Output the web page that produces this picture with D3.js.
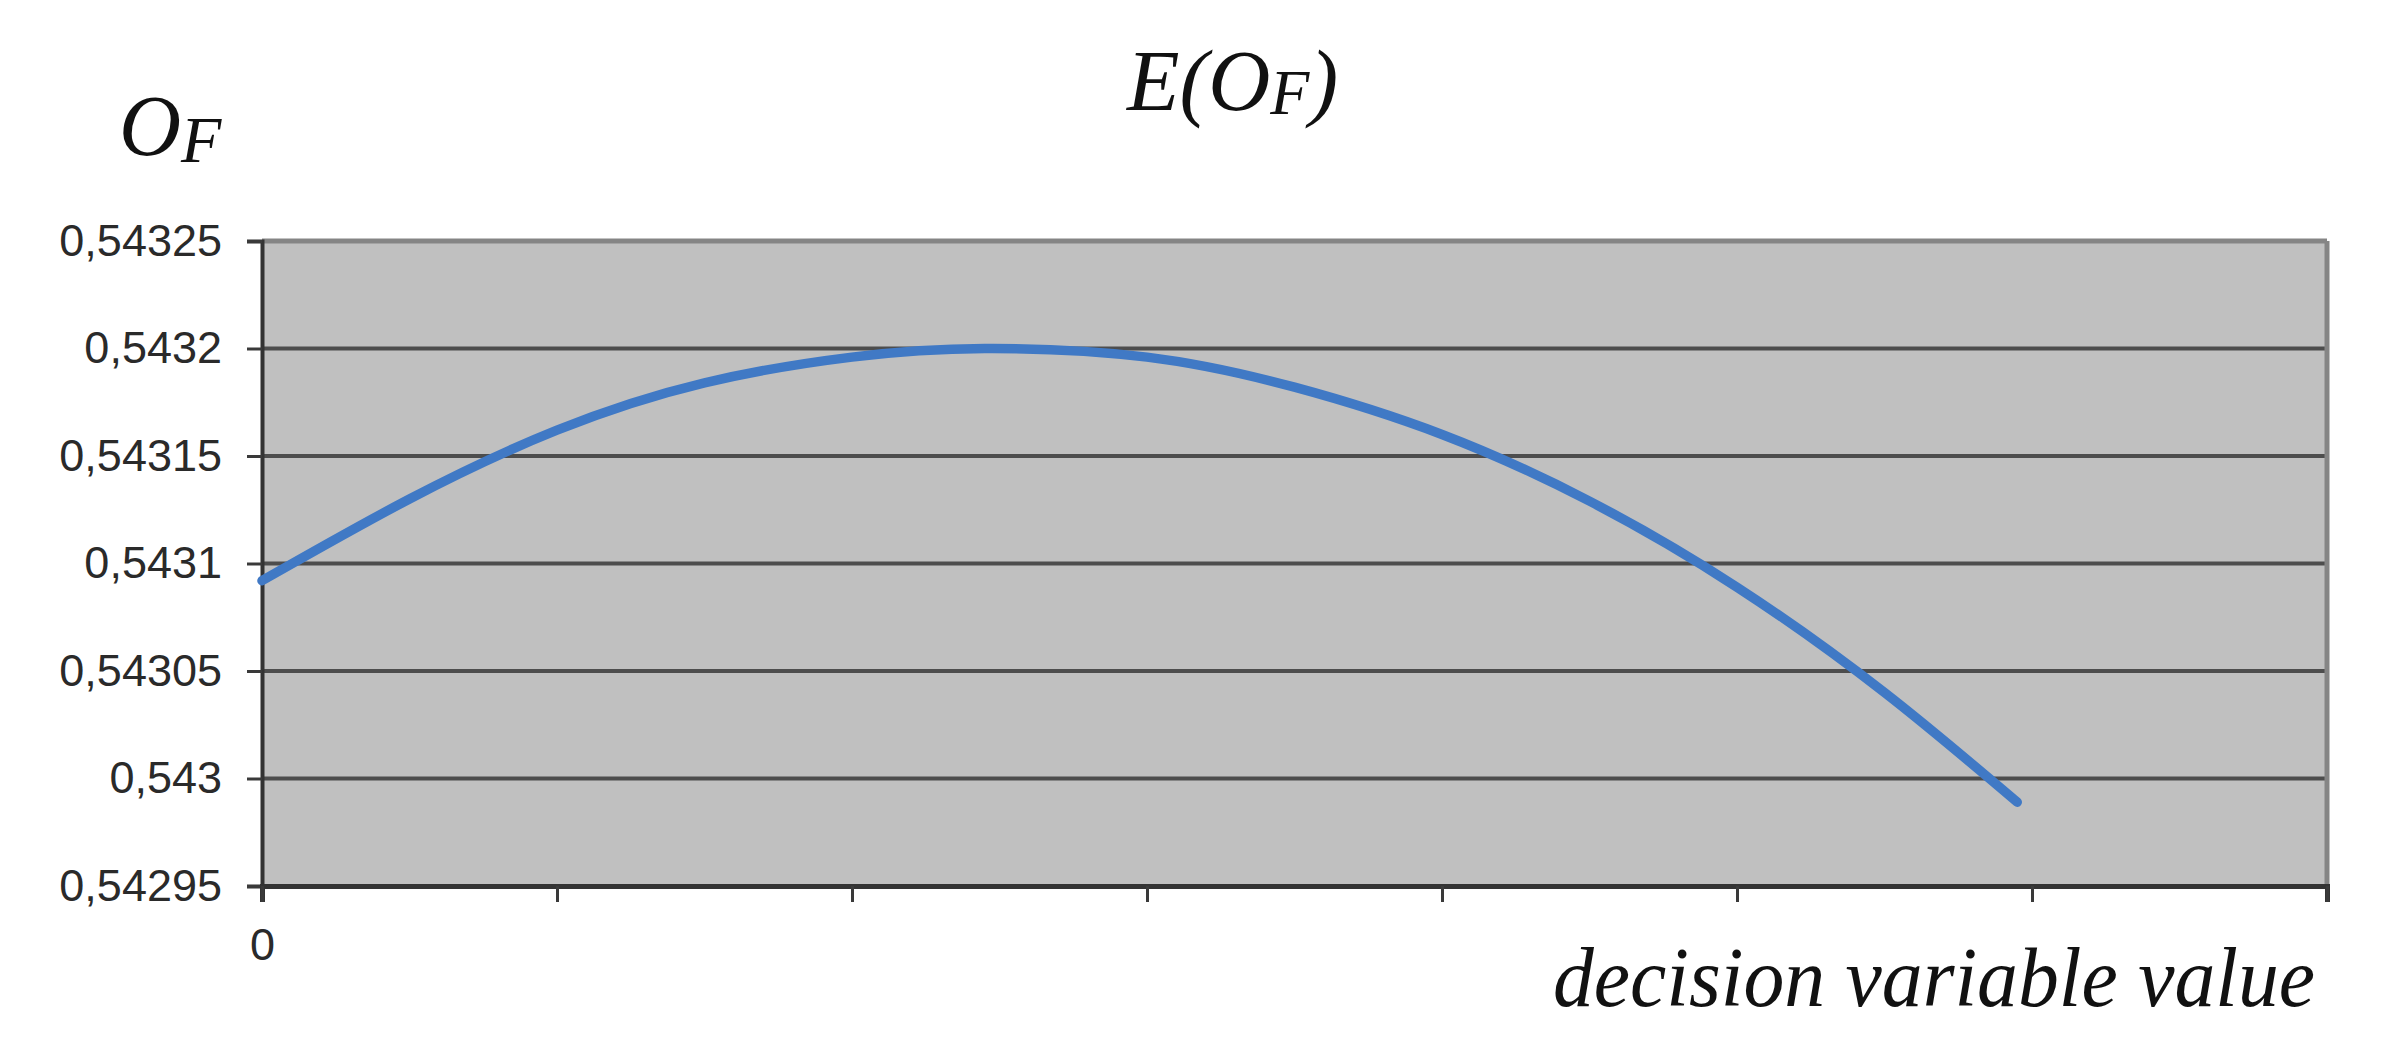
<!DOCTYPE html>
<html>
<head>
<meta charset="utf-8">
<script src="https://cdn.jsdelivr.net/npm/d3@7"></script>
<style>
  html, body { margin: 0; padding: 0; background: #fff; }
  svg { display: block; }
</style>
</head>
<body>
<svg id="chart" width="2388" height="1053"></svg>
<script>
// ---- data ----
const xValues = [0, 0.5, 1, 1.5, 2, 2.45, 3, 3.5, 4, 4.5, 5, 5.5, 5.95];
const yValues = [0.543092, 0.54313, 0.543162, 0.543184, 0.543196, 0.5432, 0.543196, 0.543182, 0.54316, 0.543129, 0.543089, 0.54304, 0.542989];
const xTicks = [0, 1, 2, 3, 4, 5, 6, 7];
const xTickLabels = ["0", "", "", "", "", "", "", ""];
const yTicks = [0.54295, 0.543, 0.54305, 0.5431, 0.54315, 0.5432, 0.54325];
const yTickLabels = ["0,54295", "0,543", "0,54305", "0,5431", "0,54315", "0,5432", "0,54325"];
const titleMain = "E(O";
const titleSub = "F";
const yLabelMain = "O";
const yLabelSub = "F";
const xLabel = "decision variable value";

// ---- layout ----
const W = 2388, H = 1053;
const margin = { left: 262, right: 61, top: 241, bottom: 167 };
const iw = W - margin.left - margin.right;
const ih = H - margin.top - margin.bottom;

const svg = d3.select("#chart");
const g = svg.append("g").attr("transform", `translate(${margin.left},${margin.top})`);

const x = d3.scaleLinear().domain([0, 7]).range([0, iw]);
const y = d3.scaleLinear().domain([0.54295, 0.54325]).range([ih, 0]);

// plot background
g.append("rect").attr("x", 0).attr("y", 0).attr("width", iw).attr("height", ih).attr("fill", "#c0c0c0");

// gridlines
g.append("g").selectAll("line").data(yTicks.slice(1, -1)).join("line")
  .attr("x1", 0).attr("x2", iw)
  .attr("y1", d => y(d)).attr("y2", d => y(d))
  .attr("stroke", "#4d4d4d").attr("stroke-width", 4);

// top & right border
g.append("line").attr("x1", 0).attr("x2", iw).attr("y1", 0).attr("y2", 0)
  .attr("stroke", "#858585").attr("stroke-width", 5);
g.append("line").attr("x1", iw).attr("x2", iw).attr("y1", 0).attr("y2", ih)
  .attr("stroke", "#858585").attr("stroke-width", 5);

// axes
const yAxis = d3.axisLeft(y).tickValues(yTicks).tickSize(15).tickPadding(25)
  .tickFormat((d, i) => yTickLabels[i]);
const xAxis = d3.axisBottom(x).tickValues(xTicks).tickSize(16).tickPadding(26)
  .tickFormat((d, i) => xTickLabels[i]);

const ya = g.append("g").call(yAxis);
ya.select(".domain").attr("stroke", "#333").attr("stroke-width", 4);
ya.selectAll(".tick line").attr("stroke", "#3a3a3a").attr("stroke-width", 3);
ya.selectAll(".tick text").attr("font-family", "'Liberation Sans', Arial, sans-serif")
  .attr("font-size", 45).attr("fill", "#2a2a2a");

const xa = g.append("g").attr("transform", `translate(0,${ih})`).call(xAxis);
xa.select(".domain").attr("stroke", "#333").attr("stroke-width", 5);
xa.selectAll(".tick line").attr("stroke", "#3a3a3a").attr("stroke-width", 3);
xa.selectAll(".tick text").attr("font-family", "'Liberation Sans', Arial, sans-serif")
  .attr("font-size", 45).attr("fill", "#2a2a2a");

// curve
const line = d3.line()
  .x((d, i) => x(xValues[i]))
  .y(d => y(d))
  .curve(d3.curveNatural);
g.append("path").datum(yValues)
  .attr("d", line)
  .attr("fill", "none")
  .attr("stroke", "#4079c5")
  .attr("stroke-width", 9.5)
  .attr("stroke-linecap", "round");

// title
const serif = "'Liberation Serif', 'Times New Roman', serif";
const t = svg.append("text").attr("x", 1127).attr("y", 110)
  .attr("font-family", serif).attr("font-style", "italic").attr("font-size", 86).attr("fill", "#111");
t.append("tspan").text(titleMain);
t.append("tspan").attr("font-size", 64).attr("dy", 4).text(titleSub);
t.append("tspan").attr("dy", -4).text(")");

// y label
const yl = svg.append("text").attr("x", 119).attr("y", 155)
  .attr("font-family", serif).attr("font-style", "italic").attr("font-size", 86).attr("fill", "#111");
yl.append("tspan").text(yLabelMain);
yl.append("tspan").attr("font-size", 66).attr("dy", 7).text(yLabelSub);

// x label
svg.append("text").attr("x", 1553).attr("y", 1006)
  .attr("font-family", serif).attr("font-style", "italic").attr("font-size", 84).attr("fill", "#111")
  .attr("textLength", 762).attr("lengthAdjust", "spacingAndGlyphs")
  .text(xLabel);
</script>
</body>
</html>
